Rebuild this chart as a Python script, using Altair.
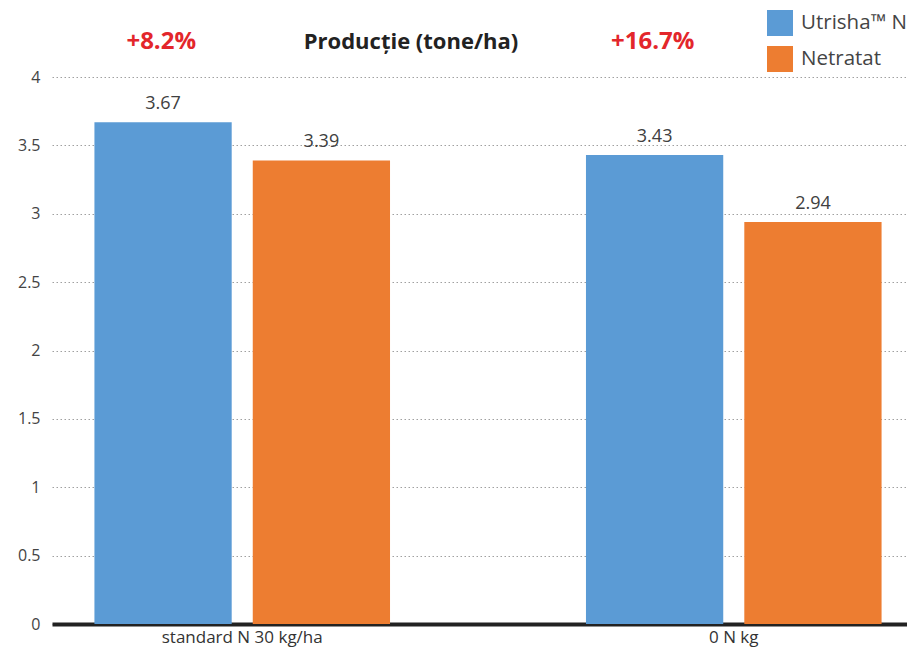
import altair as alt
import pandas as pd

categories = ["standard N 30 kg/ha", "0 N kg"]
series = ["Utrisha™ N", "Netratat"]
utrisha = [3.67, 3.43]
netratat = [3.39, 2.94]
increase_labels = ["+8.2%", "+16.7%"]
title_text = "Producție (tone/ha)"
y_ticks = [0, 0.5, 1, 1.5, 2, 2.5, 3, 3.5, 4]
colors = ["#5B9BD5", "#ED7D31"]

rows = []
for i, c in enumerate(categories):
    rows.append({"cat": c, "series": series[0], "value": utrisha[i]})
    rows.append({"cat": c, "series": series[1], "value": netratat[i]})
df = pd.DataFrame(rows)
ann_df = pd.DataFrame({"cat": categories, "label": increase_labels})
title_df = pd.DataFrame({"t": [title_text]})

FONT = "Open Sans"

x_enc = alt.X(
    "cat:N",
    sort=categories,
    title=None,
    scale=alt.Scale(paddingInner=0.226, paddingOuter=0, range=[0, 872]),
    axis=alt.Axis(
        domainColor="#222222", domainWidth=4, ticks=False, labelAngle=0,
        labelFontSize=17, labelColor="#333333", labelPadding=5, labelFont=FONT,
    ),
)
xoff_enc = alt.XOffset(
    "series:N", sort=series,
    scale=alt.Scale(paddingInner=0.133, paddingOuter=0.268),
)
y_enc = alt.Y(
    "value:Q",
    title=None,
    scale=alt.Scale(domain=[0, 4], nice=False),
    axis=alt.Axis(
        values=y_ticks, format="~g", domain=False, ticks=False,
        grid=True, gridColor="#a0a0a0", gridDash=[1.5, 2.5], gridWidth=1,
        labelFontSize=16, labelColor="#444444", labelPadding=12, labelFont=FONT,
    ),
)

base = alt.Chart(df).encode(x=x_enc, xOffset=xoff_enc)

bars = base.mark_bar().encode(
    y=y_enc,
    color=alt.Color(
        "series:N", sort=series,
        scale=alt.Scale(domain=series, range=colors),
        legend=alt.Legend(
            title=None, orient="none", legendX=715, legendY=-67,
            symbolType="square", symbolSize=676, symbolStrokeWidth=0,
            symbolOpacity=1, rowPadding=10, labelFontSize=20.5,
            labelColor="#444444", labelOffset=8, labelFont=FONT,
        ),
    ),
)

labels = base.mark_text(
    dy=-18, fontSize=18, color="#404040", font=FONT, baseline="middle"
).encode(
    y=alt.Y("value:Q"),
    text=alt.Text("value:Q", format=".2f"),
)

annots = alt.Chart(ann_df).mark_text(
    dx=-81, fontSize=24, fontWeight="bold", color="#E3262B", font=FONT,
    baseline="middle",
).encode(
    x=alt.X("cat:N", sort=categories),
    y=alt.value(-35),
    text="label:N",
)

title = alt.Chart(title_df).mark_text(
    fontSize=22, fontWeight="bold", color="#222222", font=FONT, baseline="middle"
).encode(
    x=alt.value(359),
    y=alt.value(-35),
    text="t:N",
)

chart = alt.layer(bars, labels, annots, title).properties(
    width=855,
    height=547,
    padding={"left": 44, "top": 69, "right": 0, "bottom": 25},
    autosize=alt.AutoSizeParams(type="none"),
).configure_view(stroke=None)

chart.save("out.html", embed_options={"renderer": "svg", "actions": False})
